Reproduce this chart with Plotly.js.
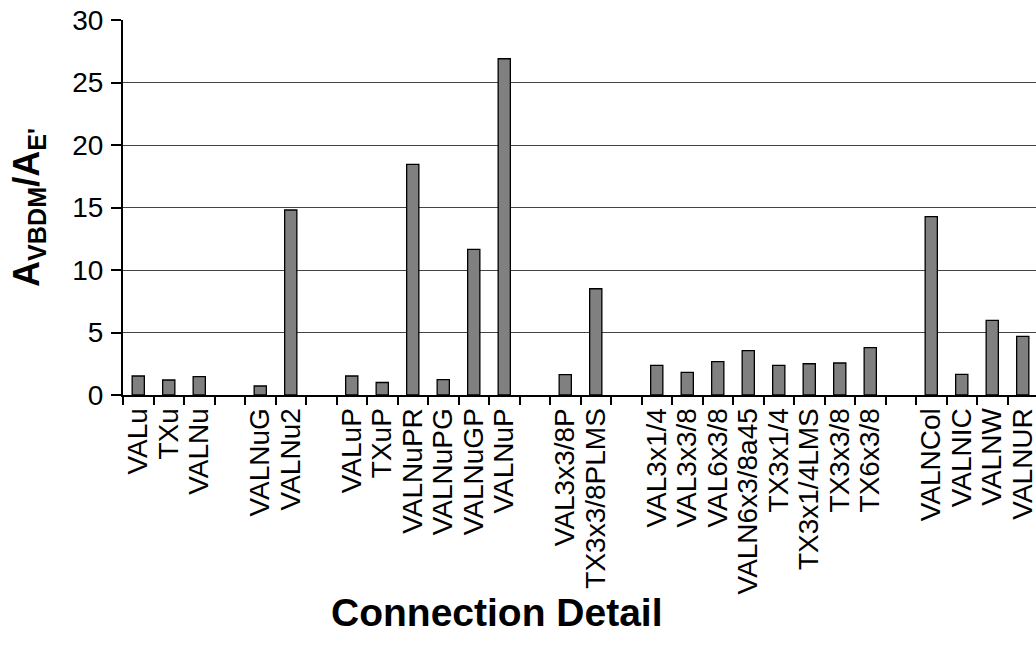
<!DOCTYPE html>
<html>
<head>
<meta charset="utf-8">
<script src="https://cdn.plot.ly/plotly-3.0.1.min.js"></script>
<style>
html,body{margin:0;padding:0;overflow:hidden;background:#fff;}
#chart{width:1039px;height:656px;}
</style>
</head>
<body>
<div id="chart"></div>
<script>
// Categories (blank entries are the gaps between groups)
var categories = ["VALu","TXu","VALNu"," ","VALNuG","VALNu2","  ","VALuP","TXuP","VALNuPR","VALNuPG","VALNuGP","VALNuP","   ","VAL3x3/8P","TX3x3/8PLMS","    ","VAL3x1/4","VAL3x3/8","VAL6x3/8","VALN6x3/8a45","TX3x1/4","TX3x1/4LMS","TX3x3/8","TX6x3/8","     ","VALNCol","VALNIC","VALNW","VALNUR"];
var ratios = [1.52,1.2,1.47,null,0.72,14.8,null,1.52,1.0,18.45,1.23,11.65,26.9,null,1.63,8.5,null,2.37,1.81,2.67,3.55,2.37,2.5,2.56,3.79,null,14.27,1.65,5.97,4.69];
var yTicks = [0,5,10,15,20,25,30];
var xTitle = 'Connection Detail';
var yTitle = 'A<sub>VBDM</sub>/A<sub>E\'</sub>';

var FONT = 'Liberation Sans, Arial, sans-serif';

var trace = {
  type: 'bar',
  x: categories,
  y: ratios,
  marker: {color: '#808080', line: {color: '#000', width: 1.3}},
  hoverinfo: 'x+y'
};

var layout = {
  width: 1039, height: 656,
  margin: {l: 123, r: 1, t: 20, b: 261},
  paper_bgcolor: '#fff', plot_bgcolor: '#fff',
  showlegend: false,
  bargap: 0.6,
  font: {family: FONT, color: '#000'},
  xaxis: {
    type: 'category',
    categoryorder: 'array', categoryarray: categories,
    tickmode: 'linear', tick0: 0, dtick: 1,
    tickson: 'boundaries',
    ticks: 'outside', ticklen: 8, tickwidth: 2, tickcolor: '#000',
    tickangle: -90,
    tickfont: {size: 28, family: FONT, color: '#000'},
    showline: true, linecolor: '#000', linewidth: 2,
    showgrid: false, zeroline: false,
    automargin: false
  },
  yaxis: {
    range: [0, 30],
    tickmode: 'array', tickvals: yTicks,
    ticks: 'outside', ticklen: 10, tickwidth: 2, tickcolor: '#000',
    tickfont: {size: 28, family: FONT, color: '#000'},
    ticklabelstandoff: 2,
    showline: true, linecolor: '#000', linewidth: 2,
    showgrid: true, gridcolor: '#444', gridwidth: 1,
    zeroline: false,
    automargin: false,
    title: {text: yTitle, font: {size: 36, family: FONT, color: '#000', weight: 'bold'}, standoff: 22}
  },
  annotations: [{
    text: '<b>' + xTitle + '</b>',
    xref: 'paper', yref: 'paper',
    x: (497 - 123) / 915, y: -(612 - 395) / 375,
    xanchor: 'center', yanchor: 'middle',
    showarrow: false,
    font: {size: 39, family: FONT, color: '#000'}
  }]
};

Plotly.newPlot('chart', [trace], layout, {displayModeBar: false, staticPlot: true});
</script>
</body>
</html>
